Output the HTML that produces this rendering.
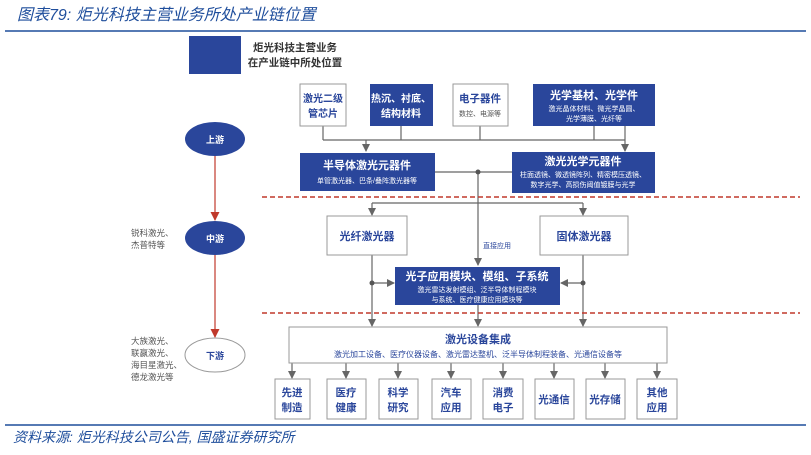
<!DOCTYPE html>
<html><head><meta charset="utf-8"><style>
body{margin:0;background:#fff;}
svg text{font-family:"Liberation Sans","Noto Sans CJK SC",sans-serif;}
</style></head><body>
<svg width="811" height="450" viewBox="0 0 811 450" xmlns="http://www.w3.org/2000/svg">
<defs>
<marker id="ag" markerWidth="8" markerHeight="8" refX="7" refY="4" orient="auto" markerUnits="userSpaceOnUse"><path d="M0,0 L8,4 L0,8 z" fill="#666"/></marker>
<marker id="ar" markerWidth="9" markerHeight="9" refX="8" refY="4.5" orient="auto" markerUnits="userSpaceOnUse"><path d="M0,0 L9,4.5 L0,9 z" fill="#c0392b"/></marker>
</defs>
<text x="17" y="20" font-size="16" font-style="italic" fill="#1f4e9c" font-family="'Noto Serif CJK SC',serif">图表79:  炬光科技主营业务所处产业链位置</text>
<line x1="5" y1="31" x2="806" y2="31" stroke="#1f4e9c" stroke-width="1.5"/>
<rect x="189" y="36" width="52" height="38" fill="#2a469b"/>
<text x="295" y="51" font-size="10.5" font-weight="bold" fill="#333" text-anchor="middle">炬光科技主营业务</text>
<text x="295" y="66" font-size="10.5" font-weight="bold" fill="#333" text-anchor="middle">在产业链中所处位置</text>

<g stroke="#666" stroke-width="1.2" fill="none">
<path d="M323,126 V140 M401,126 V140 M480,126 V140 M594,126 V140 M323,140 H625"/>
<path d="M366,140 V151" marker-end="url(#ag)"/>
<path d="M625,126 V151" marker-end="url(#ag)"/>
<path d="M435,172 H512"/>
<path d="M478,172 V265" marker-end="url(#ag)"/>
<path d="M372,203 H583"/>
<path d="M372,203 V215" marker-end="url(#ag)"/>
<path d="M583,203 V215" marker-end="url(#ag)"/>
<path d="M372,255 V326" marker-end="url(#ag)"/>
<path d="M583,255 V326" marker-end="url(#ag)"/>
<path d="M372,283 H394" marker-end="url(#ag)"/>
<path d="M583,283 H561" marker-end="url(#ag)"/>
<path d="M478,305 V326" marker-end="url(#ag)"/>
<path d="M292,363 V378" marker-end="url(#ag)"/>
<path d="M346,363 V378" marker-end="url(#ag)"/>
<path d="M398,363 V378" marker-end="url(#ag)"/>
<path d="M451,363 V378" marker-end="url(#ag)"/>
<path d="M503,363 V378" marker-end="url(#ag)"/>
<path d="M554,363 V378" marker-end="url(#ag)"/>
<path d="M605,363 V378" marker-end="url(#ag)"/>
<path d="M657,363 V378" marker-end="url(#ag)"/>
</g>
<circle cx="478" cy="172" r="2.5" fill="#555"/>
<circle cx="372" cy="283" r="2.5" fill="#555"/>
<circle cx="583" cy="283" r="2.5" fill="#555"/>

<line x1="262" y1="197" x2="800" y2="197" stroke="#c0392b" stroke-width="1.5" stroke-dasharray="5,3"/>
<line x1="262" y1="313" x2="800" y2="313" stroke="#c0392b" stroke-width="1.5" stroke-dasharray="5,3"/>

<rect x="300" y="84" width="46" height="42" fill="#fff" stroke="#999"/>
<text x="323" y="102" font-size="10" font-weight="bold" fill="#2a469b" text-anchor="middle">激光二级</text>
<text x="323" y="117" font-size="10" font-weight="bold" fill="#2a469b" text-anchor="middle">管芯片</text>
<rect x="370" y="84" width="63" height="42" fill="#2a469b"/>
<text x="401" y="102" font-size="10" font-weight="bold" fill="#fff" text-anchor="middle">热沉、衬底、</text>
<text x="401" y="117" font-size="10" font-weight="bold" fill="#fff" text-anchor="middle">结构材料</text>
<rect x="453" y="84" width="55" height="42" fill="#fff" stroke="#999"/>
<text x="480" y="102" font-size="10.5" font-weight="bold" fill="#2a469b" text-anchor="middle">电子器件</text>
<text x="480" y="116" font-size="7" fill="#555" text-anchor="middle">数控、电源等</text>
<rect x="533" y="84" width="122" height="42" fill="#2a469b"/>
<text x="594" y="99" font-size="11" font-weight="bold" fill="#fff" text-anchor="middle">光学基材、光学件</text>
<text x="594" y="111" font-size="7" fill="#fff" text-anchor="middle">激光晶体材料、微光学晶圆、</text>
<text x="594" y="121" font-size="7" fill="#fff" text-anchor="middle">光学薄膜、光纤等</text>

<rect x="300" y="153" width="135" height="38" fill="#2a469b"/>
<text x="367" y="169" font-size="11" font-weight="bold" fill="#fff" text-anchor="middle">半导体激光元器件</text>
<text x="367" y="183" font-size="7" fill="#fff" text-anchor="middle">单管激光器、巴条/叠阵激光器等</text>
<rect x="512" y="152" width="143" height="41" fill="#2a469b"/>
<text x="583" y="165" font-size="11" font-weight="bold" fill="#fff" text-anchor="middle">激光光学元器件</text>
<text x="583" y="177" font-size="7" fill="#fff" text-anchor="middle">柱面透镜、微透镜阵列、精密模压透镜、</text>
<text x="583" y="187" font-size="7" fill="#fff" text-anchor="middle">数字光学、高损伤阈值镀膜与光学</text>

<rect x="327" y="216" width="80" height="39" fill="#fff" stroke="#999"/>
<text x="367" y="240" font-size="11" font-weight="bold" fill="#2a469b" text-anchor="middle">光纤激光器</text>
<rect x="540" y="216" width="88" height="39" fill="#fff" stroke="#999"/>
<text x="584" y="240" font-size="11" font-weight="bold" fill="#2a469b" text-anchor="middle">固体激光器</text>
<text x="483" y="248" font-size="7" fill="#2a469b">直接应用</text>

<rect x="395" y="267" width="165" height="38" fill="#2a469b"/>
<text x="477" y="280" font-size="11" font-weight="bold" fill="#fff" text-anchor="middle">光子应用模块、模组、子系统</text>
<text x="477" y="292" font-size="7" fill="#fff" text-anchor="middle">激光雷达发射模组、泛半导体制程模块</text>
<text x="477" y="302" font-size="7" fill="#fff" text-anchor="middle">与系统、医疗健康应用模块等</text>

<rect x="289" y="327" width="378" height="36" fill="#fff" stroke="#999"/>
<text x="478" y="343" font-size="11" font-weight="bold" fill="#2a469b" text-anchor="middle">激光设备集成</text>
<text x="478" y="357" font-size="8" fill="#2a469b" text-anchor="middle">激光加工设备、医疗仪器设备、激光雷达整机、泛半导体制程装备、光通信设备等</text>

<g font-size="10.5" font-weight="bold" fill="#2a469b" text-anchor="middle">
<rect x="275" y="379" width="35" height="40" fill="#fff" stroke="#999"/><text x="292" y="396">先进</text><text x="292" y="411">制造</text>
<rect x="327" y="379" width="39" height="40" fill="#fff" stroke="#999"/><text x="346" y="396">医疗</text><text x="346" y="411">健康</text>
<rect x="379" y="379" width="39" height="40" fill="#fff" stroke="#999"/><text x="398" y="396">科学</text><text x="398" y="411">研究</text>
<rect x="432" y="379" width="39" height="40" fill="#fff" stroke="#999"/><text x="451" y="396">汽车</text><text x="451" y="411">应用</text>
<rect x="483" y="379" width="40" height="40" fill="#fff" stroke="#999"/><text x="503" y="396">消费</text><text x="503" y="411">电子</text>
<rect x="535" y="379" width="39" height="40" fill="#fff" stroke="#999"/><text x="554" y="403">光通信</text>
<rect x="586" y="379" width="39" height="40" fill="#fff" stroke="#999"/><text x="605" y="403">光存储</text>
<rect x="637" y="379" width="40" height="40" fill="#fff" stroke="#999"/><text x="657" y="396">其他</text><text x="657" y="411">应用</text>
</g>

<line x1="215" y1="156" x2="215" y2="220" stroke="#c0392b" stroke-width="1.2" marker-end="url(#ar)"/>
<line x1="215" y1="255" x2="215" y2="337" stroke="#c0392b" stroke-width="1.2" marker-end="url(#ar)"/>
<ellipse cx="215" cy="139" rx="30" ry="17" fill="#2a469b"/>
<text x="215" y="143" font-size="9" font-weight="bold" fill="#fff" text-anchor="middle">上游</text>
<ellipse cx="215" cy="238" rx="30" ry="17" fill="#2a469b"/>
<text x="215" y="242" font-size="9" font-weight="bold" fill="#fff" text-anchor="middle">中游</text>
<ellipse cx="215" cy="355" rx="30" ry="17" fill="#fff" stroke="#999"/>
<text x="215" y="359" font-size="9" font-weight="bold" fill="#2a469b" text-anchor="middle">下游</text>
<g font-size="8.5" fill="#555">
<text x="131" y="236">锐科激光、</text><text x="131" y="248">杰普特等</text>
<text x="131" y="344">大族激光、</text><text x="131" y="356">联赢激光、</text><text x="131" y="368">海目星激光、</text><text x="131" y="380">德龙激光等</text>
</g>

<line x1="5" y1="425" x2="806" y2="425" stroke="#1f4e9c" stroke-width="1.5"/>
<text x="13" y="442" font-size="14" font-style="italic" fill="#1f4e9c" font-family="'Noto Serif CJK SC',serif">资料来源: 炬光科技公司公告, 国盛证券研究所</text>
</svg>
</body></html>
